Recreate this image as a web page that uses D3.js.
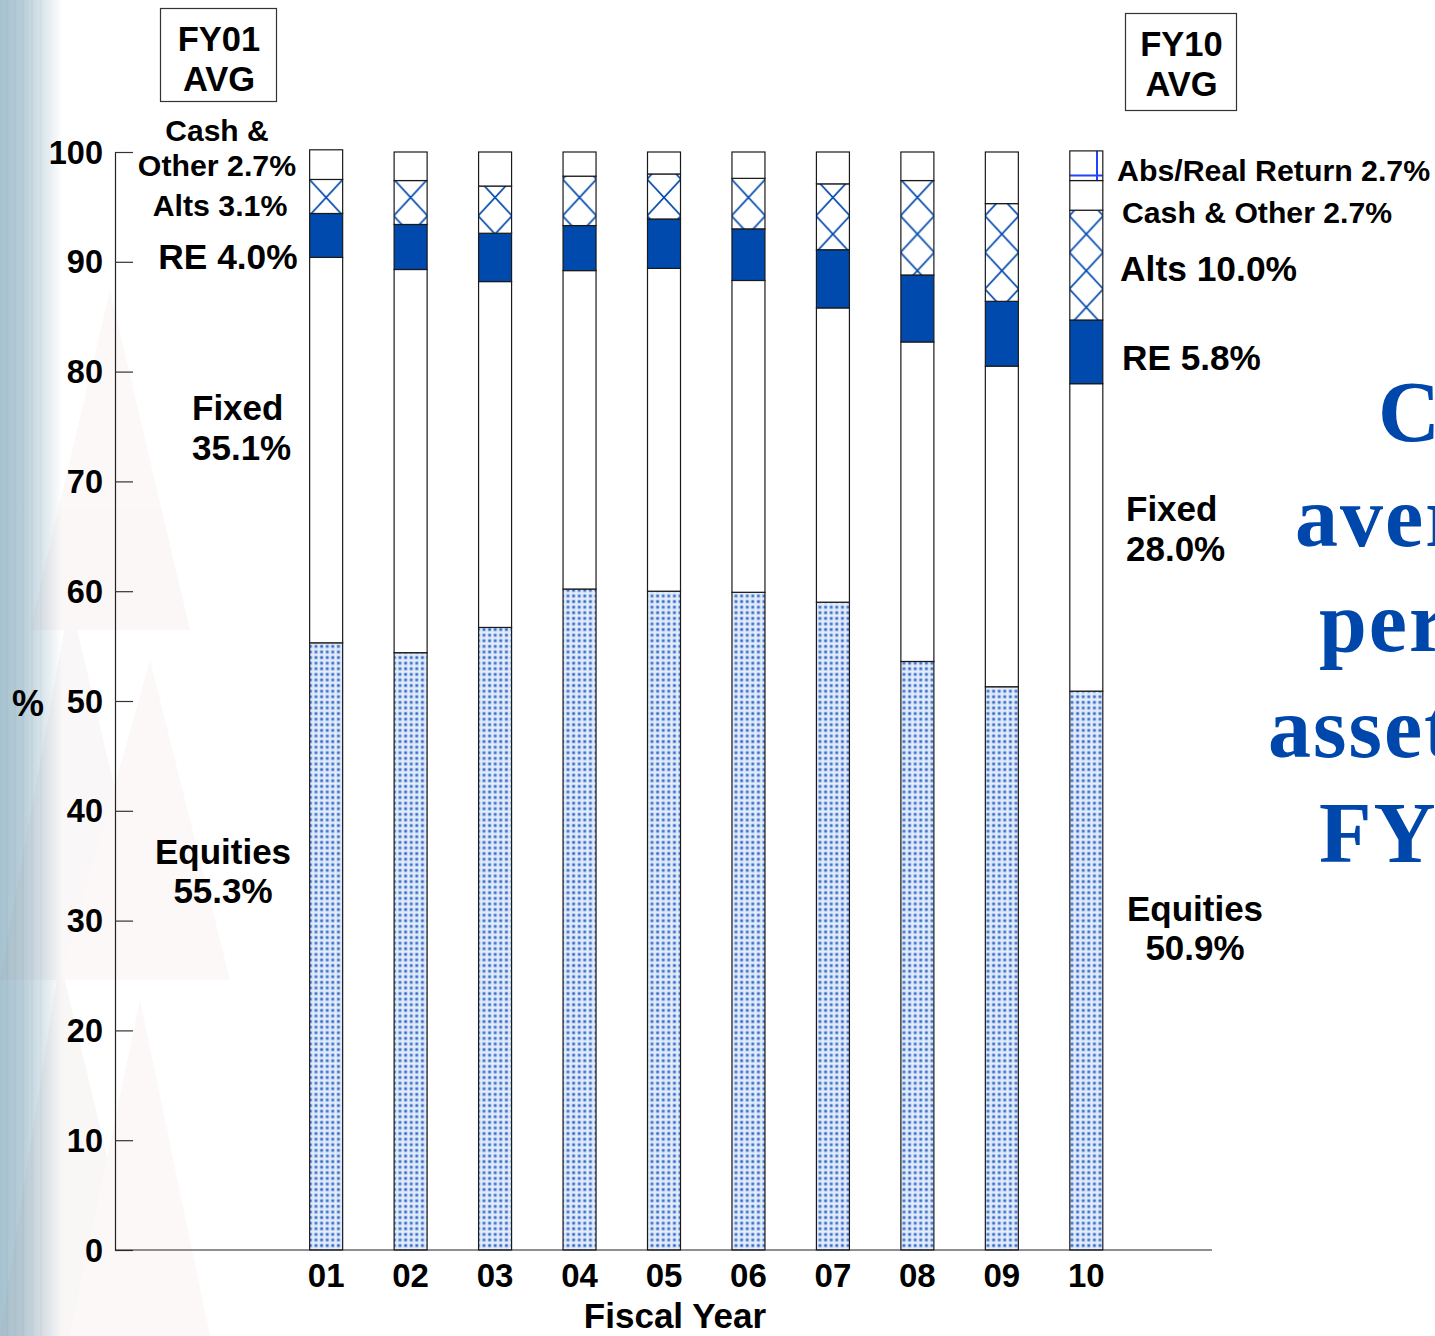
<!DOCTYPE html>
<html>
<head>
<meta charset="utf-8">
<script src="https://cdn.jsdelivr.net/npm/d3@7"></script>
<style>
  html, body { margin: 0; padding: 0; background: #ffffff; }
  svg { display: block; }
  text { font-family: "Liberation Sans", Arial, sans-serif; font-weight: bold; fill: #000; }
  .serif { font-family: "Liberation Serif", "Times New Roman", serif; font-weight: bold; fill: #0047ab; }
</style>
</head>
<body>
<svg id="chart" width="1435" height="1336"></svg>
<script>
// Fiscal years shown along the x axis
const years = ["01", "02", "03", "04", "05", "06", "07", "08", "09", "10"];

// Asset allocation by fiscal year (% of portfolio), stacked bottom to top
const equities   = [55.3, 54.4, 56.7, 60.2, 60.0, 59.9, 59.0, 53.6, 51.3, 50.9];
const fixed      = [35.1, 34.9, 31.5, 29.0, 29.4, 28.4, 26.8, 29.1, 29.2, 28.0];
const realEstate = [ 4.0,  4.1,  4.4,  4.1,  4.5,  4.7,  5.3,  6.1,  5.9,  5.8];
const alts       = [ 3.1,  4.0,  4.3,  4.5,  4.1,  4.6,  6.0,  8.6,  8.9, 10.0];
const cash       = [ 2.7,  2.6,  3.1,  2.2,  2.0,  2.4,  2.9,  2.6,  4.7,  2.7];
const absReturn  = [ 0.0,  0.0,  0.0,  0.0,  0.0,  0.0,  0.0,  0.0,  0.0,  2.7];

const yTicks = [0, 10, 20, 30, 40, 50, 60, 70, 80, 90, 100];

const keys = ["equities", "fixed", "realEstate", "alts", "cash", "absReturn"];
const series = { equities, fixed, realEstate, alts, cash, absReturn };
const rows = years.map((yr, i) => {
  const r = { year: yr, idx: i };
  keys.forEach(k => r[k] = series[k][i]);
  return r;
});

const svg = d3.select("#chart");
const W = 1435, H = 1336;

// ---- backdrop: soft steel-blue band at the left edge with faint triangles
const defs = svg.append("defs");
const bg = defs.append("linearGradient").attr("id", "edge").attr("x1", 0).attr("x2", 1).attr("y1", 0).attr("y2", 0);
bg.append("stop").attr("offset", 0).attr("stop-color", "#a6c2cf");
bg.append("stop").attr("offset", 0.35).attr("stop-color", "#b7cdd8");
bg.append("stop").attr("offset", 0.7).attr("stop-color", "#dbe6ec");
bg.append("stop").attr("offset", 1).attr("stop-color", "#ffffff");
svg.append("rect").attr("x", 0).attr("y", 0).attr("width", 62).attr("height", H).attr("fill", "url(#edge)");
[[6, 0.35], [14, 0.25], [22, 0.3], [31, 0.2], [40, 0.15]].forEach(([sx, op]) => {
  svg.append("rect").attr("x", sx).attr("y", 0).attr("width", 2).attr("height", H)
    .attr("fill", "#8fb0c0").attr("opacity", op * 0.5);
});
const tri = svg.append("g").attr("opacity", 0.06);
[
  [[110, 290], [30, 630], [190, 630], "#c98a8a"],
  [[70, 600], [0, 980], [160, 980], "#a08080"],
  [[150, 660], [60, 980], [230, 980], "#d09a9a"],
  [[60, 960], [0, 1336], [150, 1336], "#a07a7a"],
  [[140, 1000], [70, 1336], [210, 1336], "#d09a9a"]
].forEach(([a, b, c, col]) => {
  tri.append("polygon").attr("points", [a, b, c].map(p => p.join(",")).join(" ")).attr("fill", col);
});

// ---- scales
const y = d3.scaleLinear().domain([0, 100]).range([1250, 152]);
// two empty slots before the first year and one after the last
const x = d3.scaleLinear().domain([-2, years.length + 1]).range([115, 1213]);
const barW = 33;
const cx = i => x(i + 0.5);

// ---- fill patterns
const dots = defs.append("pattern").attr("id", "dots").attr("patternUnits", "userSpaceOnUse")
  .attr("width", 5.6).attr("height", 5.6);
dots.append("rect").attr("width", 5.6).attr("height", 5.6).attr("fill", "#e6eefa");
dots.append("rect").attr("x", 0.6).attr("y", 0.6).attr("width", 3.6).attr("height", 3.6).attr("fill", "#9dbbe9");
dots.append("circle").attr("cx", 2.4).attr("cy", 2.4).attr("r", 1.2).attr("fill", "#2f63c4");

// crosshatch for alternatives, aligned on each bar's centre
const hatchW = 34, hatchH = 36.6;
rows.forEach(d => {
  const p = defs.append("pattern").attr("id", "hatch" + d.idx).attr("patternUnits", "userSpaceOnUse")
    .attr("x", cx(d.idx) - hatchW / 2).attr("y", 179.2).attr("width", hatchW).attr("height", hatchH);
  p.append("rect").attr("width", hatchW).attr("height", hatchH).attr("fill", "#fff");
  p.append("path")
    .attr("d", `M0,0L${hatchW},${hatchH}M${hatchW},0L0,${hatchH}`)
    .attr("stroke", "#0a4fb0").attr("stroke-width", 1.8).attr("fill", "none");
});

// open grid for absolute/real return
const gridP = 32;
const grid = defs.append("pattern").attr("id", "grid").attr("patternUnits", "userSpaceOnUse")
  .attr("x", 1097 - gridP + 1).attr("y", 175.5 - gridP + 1).attr("width", gridP).attr("height", gridP);
grid.append("rect").attr("width", gridP).attr("height", gridP).attr("fill", "#fff");
grid.append("path").attr("d", `M${gridP - 1},0V${gridP}M0,${gridP - 1}H${gridP}`)
  .attr("stroke", "#2244ff").attr("stroke-width", 2).attr("fill", "none");

const fills = {
  equities: () => "url(#dots)",
  fixed: () => "#ffffff",
  realEstate: () => "#004aad",
  alts: d => `url(#hatch${d.data.idx})`,
  cash: () => "#ffffff",
  absReturn: () => "url(#grid)"
};

// ---- stacked bars
const stacked = d3.stack().keys(keys)(rows);
const layers = svg.append("g").selectAll("g").data(stacked).join("g");
layers.each(function (layer) {
  d3.select(this).selectAll("rect")
    .data(layer.filter(d => d[1] - d[0] > 0))
    .join("rect")
    .attr("x", d => cx(d.data.idx) - barW / 2)
    .attr("width", barW)
    .attr("y", d => y(d[1]))
    .attr("height", d => y(d[0]) - y(d[1]))
    .attr("fill", d => fills[layer.key](d))
    .attr("stroke", "#1a1a1a")
    .attr("stroke-width", 1.2);
});

// ---- axes
const yAxis = d3.axisRight(y).tickValues(yTicks).tickSize(18).tickFormat("");
const gy = svg.append("g").attr("transform", "translate(115,0)").call(yAxis);
gy.select(".domain").attr("stroke", "#222").attr("stroke-width", 1.2);
gy.selectAll(".tick line").attr("stroke", "#333").attr("stroke-width", 1.2);
svg.append("g").selectAll("text").data(yTicks).join("text")
  .attr("x", 103).attr("y", d => y(d) + 11.5)
  .attr("text-anchor", "end").attr("font-size", 32.5)
  .text(d => d);

svg.append("line").attr("x1", 115).attr("x2", 1212).attr("y1", y(0)).attr("y2", y(0))
  .attr("stroke", "#222").attr("stroke-width", 1.2);
svg.append("g").selectAll("text").data(years).join("text")
  .attr("x", (d, i) => cx(i)).attr("y", 1287)
  .attr("text-anchor", "middle").attr("font-size", 33)
  .text(d => d);

svg.append("text").attr("x", 675).attr("y", 1328).attr("text-anchor", "middle")
  .attr("font-size", 35).text("Fiscal Year");
svg.append("text").attr("x", 28).attr("y", 716).attr("text-anchor", "middle")
  .attr("font-size", 36).text("%");

// ---- average boxes
function avgBox(x0, y0, w, h, label) {
  svg.append("rect").attr("x", x0 + 0.5).attr("y", y0 + 0.5).attr("width", w).attr("height", h)
    .attr("fill", "#fff").attr("stroke", "#333").attr("stroke-width", 1.2);
  svg.append("text").attr("x", x0 + w / 2 + 1).attr("y", y0 + 43).attr("text-anchor", "middle")
    .attr("font-size", 34.5).text(label);
  svg.append("text").attr("x", x0 + w / 2 + 1).attr("y", y0 + 83).attr("text-anchor", "middle")
    .attr("font-size", 34.5).text("AVG");
}
avgBox(160, 8, 116, 93, "FY01");
avgBox(1125, 13, 111, 97, "FY10");

// ---- first-year labels (left)
const leftLabels = [
  { t: "Cash &", x: 217, y: 141, s: 30, a: "middle" },
  { t: `Other ${cash[0].toFixed(1)}%`, x: 217, y: 176, s: 30.3, a: "middle" },
  { t: `Alts ${alts[0].toFixed(1)}%`, x: 220, y: 216, s: 30.3, a: "middle" },
  { t: `RE ${realEstate[0].toFixed(1)}%`, x: 228, y: 269, s: 35.3, a: "middle" },
  { t: "Fixed", x: 192, y: 420, s: 35, a: "start" },
  { t: `${fixed[0].toFixed(1)}%`, x: 192, y: 460, s: 35, a: "start" },
  { t: "Equities", x: 223, y: 864, s: 35, a: "middle" },
  { t: `${equities[0].toFixed(1)}%`, x: 223, y: 903, s: 35, a: "middle" }
];
// ---- last-year labels (right)
const last = years.length - 1;
const rightLabels = [
  { t: `Abs/Real Return ${absReturn[last].toFixed(1)}%`, x: 1117, y: 181, s: 30.3, a: "start" },
  { t: `Cash & Other ${cash[last].toFixed(1)}%`, x: 1122, y: 223, s: 30.2, a: "start" },
  { t: `Alts ${alts[last].toFixed(1)}%`, x: 1120, y: 281, s: 35.4, a: "start" },
  { t: `RE ${realEstate[last].toFixed(1)}%`, x: 1122, y: 370, s: 35.2, a: "start" },
  { t: "Fixed", x: 1126, y: 521, s: 35, a: "start" },
  { t: `${fixed[last].toFixed(1)}%`, x: 1126, y: 561, s: 35, a: "start" },
  { t: "Equities", x: 1195, y: 921, s: 35, a: "middle" },
  { t: `${equities[last].toFixed(1)}%`, x: 1195, y: 960, s: 35, a: "middle" }
];
svg.append("g").selectAll("text").data(leftLabels.concat(rightLabels)).join("text")
  .attr("x", d => d.x).attr("y", d => d.y).attr("font-size", d => d.s)
  .attr("text-anchor", d => d.a).text(d => d.t);

// ---- headline running off the right edge
const headline = [
  { t: "Change in", x: 1378, y: 441 },
  { t: "average", x: 1295, y: 546 },
  { t: "percent of", x: 1319, y: 651 },
  { t: "assets", x: 1268, y: 757 },
  { t: "FY01-FY10", x: 1319, y: 862 }
];
svg.append("g").selectAll("text").data(headline).join("text")
  .attr("class", "serif").attr("x", d => d.x).attr("y", d => d.y)
  .attr("font-size", 86).attr("letter-spacing", 2).text(d => d.t);
</script>
</body>
</html>
